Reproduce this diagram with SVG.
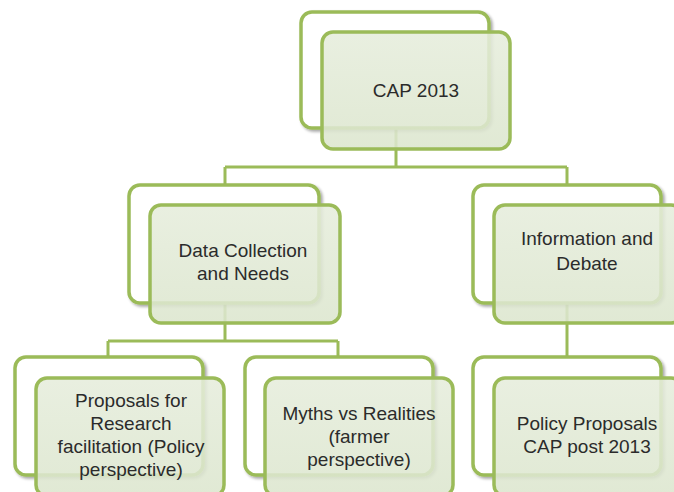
<svg xmlns="http://www.w3.org/2000/svg" width="674" height="492" viewBox="0 0 674 492">
  <defs>
    <filter id="shadow" x="-10%" y="-10%" width="125%" height="130%">
      <feGaussianBlur in="SourceAlpha" stdDeviation="1.5"/>
      <feOffset dx="1.5" dy="2" result="off"/>
      <feComponentTransfer><feFuncA type="linear" slope="0.35"/></feComponentTransfer>
      <feMerge><feMergeNode/><feMergeNode in="SourceGraphic"/></feMerge>
    </filter>
    <linearGradient id="frontFill" x1="0" y1="0" x2="0" y2="1">
      <stop offset="0" stop-color="#e6eddc"/>
      <stop offset="1" stop-color="#dce6ce"/>
    </linearGradient>
  </defs>
  <style>
    .back { fill: #ffffff; stroke: #9bbb59; stroke-width: 3.5; filter: url(#shadow); }
    .front { fill: url(#frontFill); fill-opacity: 0.88; stroke: #9bbb59; stroke-width: 3.5; }
    .link { fill: none; stroke: #9bbb59; stroke-width: 3; }
    .label { font-family: "Liberation Sans", Arial, sans-serif; font-size: 19px; fill: #2b2b2b; text-anchor: middle; }
  </style>
  <rect width="674" height="492" fill="#ffffff"/>

  <!-- connectors -->
  <g id="connectors">
    <path class="link" d="M396 128 V167 M225 167 H567 M225 167 V185 M567 167 V185"/>
    <path class="link" d="M225 303 V341 M108 341 H338 M108 341 V357 M338 341 V357"/>
    <path class="link" d="M567 303 V357"/>
  </g>

  <!-- top level -->
  <g id="cap2013">
    <rect class="back" x="301" y="12" width="188" height="116" rx="11"/>
    <rect class="front" x="322" y="32" width="188" height="117" rx="11"/>
    <text class="label" x="416" y="97">CAP 2013</text>
  </g>

  <!-- second level -->
  <g id="dataCollection">
    <rect class="back" x="129" y="185" width="190" height="118" rx="11"/>
    <rect class="front" x="150" y="205" width="190" height="118" rx="11"/>
    <text class="label" x="243" y="257">Data Collection</text>
    <text class="label" x="243" y="280">and Needs</text>
  </g>

  <g id="informationDebate">
    <rect class="back" x="473" y="185" width="188" height="118" rx="11"/>
    <rect class="front" x="494" y="205" width="188" height="118" rx="11"/>
    <text class="label" x="587" y="245">Information and</text>
    <text class="label" x="587" y="270">Debate</text>
  </g>

  <!-- third level -->
  <g id="proposalsResearch">
    <rect class="back" x="15" y="357" width="188" height="118" rx="11"/>
    <rect class="front" x="36" y="378" width="188" height="118" rx="11"/>
    <text class="label" x="131" y="407">Proposals for</text>
    <text class="label" x="131" y="430">Research</text>
    <text class="label" x="131" y="453">facilitation (Policy</text>
    <text class="label" x="131" y="476">perspective)</text>
  </g>

  <g id="mythsRealities">
    <rect class="back" x="245" y="357" width="188" height="118" rx="11"/>
    <rect class="front" x="265" y="378" width="188" height="118" rx="11"/>
    <text class="label" x="359" y="420">Myths vs Realities</text>
    <text class="label" x="359" y="443">(farmer</text>
    <text class="label" x="359" y="466">perspective)</text>
  </g>

  <g id="policyProposals">
    <rect class="back" x="473" y="357" width="188" height="118" rx="11"/>
    <rect class="front" x="494" y="378" width="188" height="118" rx="11"/>
    <text class="label" x="587" y="430">Policy Proposals</text>
    <text class="label" x="587" y="453">CAP post 2013</text>
  </g>
</svg>
